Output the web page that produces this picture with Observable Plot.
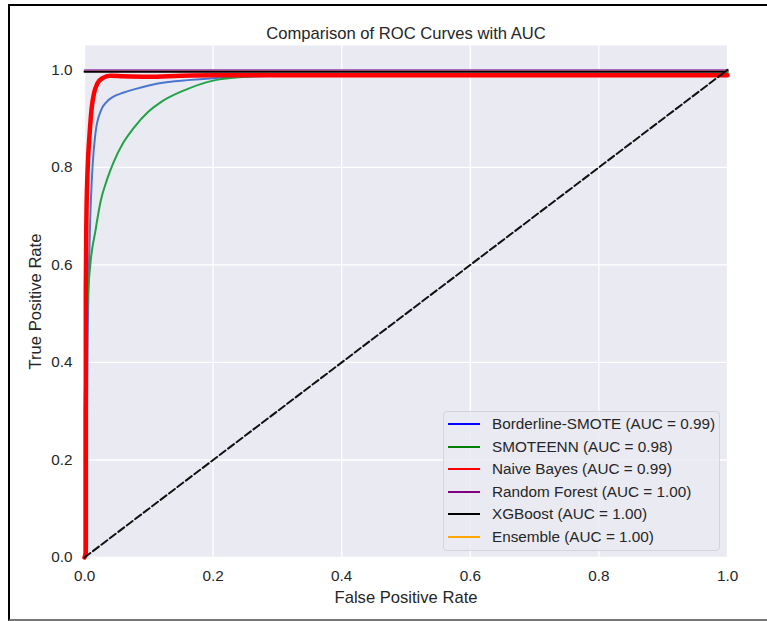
<!DOCTYPE html>
<html>
<head>
<meta charset="utf-8">
<script src="https://cdn.jsdelivr.net/npm/d3@7"></script>
<script src="https://cdn.jsdelivr.net/npm/@observablehq/plot@0.6"></script>
<style>
  html, body { margin: 0; padding: 0; background: #fff; overflow: hidden; }
  #wrap { position: relative; width: 767px; height: 621px; font-family: "Liberation Sans", Arial, sans-serif; }
  #frame { position: absolute; left: 8px; top: 4px; width: 800px; height: 613px;
           border-left: 2px solid #000; border-top: 2px solid #000; border-bottom: 2px solid #777; pointer-events: none; }
  #legend { position: absolute; left: 443px; top: 411px; width: 277px; height: 140px;
            background: rgba(234,234,242,0.8); border: 1px solid #d4d4dc; border-radius: 4px; box-sizing: border-box; }
  .row { position: absolute; left: 0; height: 22px; display: flex; align-items: center; font-size: 15.3px; color: #262626; white-space: nowrap; }
  .sw { width: 32px; height: 2px; margin-left: 4px; margin-right: 12px; }
</style>
</head>
<body>
<div id="wrap"></div>
<script>
const title = "Comparison of ROC Curves with AUC";
const xLabel = "False Positive Rate";
const yLabel = "True Positive Rate";
const ticks = [0, 0.2, 0.4, 0.6, 0.8, 1.0];

const models = ["Borderline-SMOTE", "SMOTEENN", "Naive Bayes", "Random Forest", "XGBoost", "Ensemble"];
const aucs = ["0.99", "0.98", "0.99", "1.00", "1.00", "1.00"];
const legendColors = ["#0000ff", "#008000", "#ff0000", "#800080", "#000000", "#ffa500"];
const curveColors = ["#4a76cf", "#1fa346", "#ff0000", "#8a3aa6", "#000000", "#ffa500"];
const curveWidths = [2, 2, 4.5, 1.5, 2, 1.5];

// ROC points
const fprBorderline = [0, 0.004, 0.004, 0.005, 0.007, 0.009, 0.012, 0.017, 0.025, 0.035, 0.045, 0.06, 0.077, 0.1, 0.13, 0.16, 0.2, 0.25, 0.3, 0.4, 1.0];
const tprBorderline = [0, 0.02, 0.3, 0.45, 0.6, 0.7, 0.79, 0.87, 0.915, 0.935, 0.945, 0.953, 0.96, 0.968, 0.975, 0.979, 0.983, 0.986, 0.988, 0.99, 0.99];

const fprSmoteenn = [0, 0, 0.002, 0.004, 0.009, 0.017, 0.025, 0.035, 0.045, 0.06, 0.076, 0.1, 0.12, 0.155, 0.2, 0.25, 0.3, 1.0, 1.0];
const tprSmoteenn = [0, 0.3, 0.4, 0.5, 0.6, 0.67, 0.73, 0.775, 0.81, 0.85, 0.88, 0.915, 0.935, 0.958, 0.978, 0.986, 0.99, 0.99, 1.0];

const fprNaiveBayes = [0, 0.002, 0.002, 0.003, 0.005, 0.008, 0.011, 0.015, 0.02, 0.028, 0.04, 0.06, 0.1, 0.15, 0.2, 1.0];
const tprNaiveBayes = [0, 0.01, 0.55, 0.7, 0.8, 0.87, 0.92, 0.953, 0.972, 0.983, 0.988, 0.987, 0.986, 0.988, 0.989, 0.989];

const fprRandomForest = [0, 1.0];
const tprRandomForest = [1.0, 1.0];
const fprXGBoost = [0, 1.0];
const tprXGBoost = [0.996, 0.996];
const fprEnsemble = [0, 1.0];
const tprEnsemble = [0.998, 0.998];

const diagFpr = [0, 1];
const diagTpr = [0, 1];

const series = [
  [fprBorderline, tprBorderline],
  [fprSmoteenn, tprSmoteenn],
  [fprNaiveBayes, tprNaiveBayes],
  [fprRandomForest, tprRandomForest],
  [fprXGBoost, tprXGBoost],
  [fprEnsemble, tprEnsemble]
];
const rows = series.map(([f, t], i) => f.map((x, j) => ({model: models[i], fpr: x, tpr: t[j]})));
const diag = diagFpr.map((x, i) => ({fpr: x, tpr: diagTpr[i]}));

// draw order: Ensemble, XGBoost, Random Forest, Borderline, SMOTEENN, Naive Bayes
const order = [5, 4, 3, 0, 1, 2];

const chart = Plot.plot({
  width: 767,
  height: 621,
  marginLeft: 84,
  marginRight: 40,
  marginTop: 45,
  marginBottom: 64,
  style: {fontFamily: "'Liberation Sans', Arial, sans-serif", fontSize: "15.3px", color: "#262626", background: "transparent"},
  x: {domain: [0, 1]},
  y: {domain: [0, 1.05]},
  marks: [
    Plot.frame({fill: "#eaeaf2", stroke: null}),
    Plot.gridX(ticks, {stroke: "#ffffff", strokeOpacity: 1, strokeWidth: 1.3}),
    Plot.gridY(ticks, {stroke: "#ffffff", strokeOpacity: 1, strokeWidth: 1.3}),
    Plot.axisX({ticks, tickSize: 0, tickPadding: 13, tickFormat: d3.format(".1f"), fontSize: 15.3,
                label: xLabel, labelAnchor: "center", labelArrow: "none", labelOffset: 45}),
    Plot.axisY({ticks, tickSize: 0, tickPadding: 12, tickFormat: d3.format(".1f"), fontSize: 15.3,
                label: yLabel, labelAnchor: "center", labelArrow: "none", labelOffset: 55}),
    ...order.map(i => Plot.line(rows[i], {x: "fpr", y: "tpr", stroke: curveColors[i], strokeWidth: curveWidths[i], curve: "monotone-x"})),
    Plot.line(diag, {x: "fpr", y: "tpr", stroke: "#111", strokeWidth: 2, strokeDasharray: "7.4,3.2"}),
    Plot.text([title], {frameAnchor: "top", dy: -12, lineAnchor: "middle", fontSize: 16.6, fill: "#262626"})
  ]
});

const wrap = document.getElementById("wrap");
wrap.appendChild(chart);
chart.style.position = "absolute";
chart.style.left = "0px";
chart.style.top = "0px";
// axis titles slightly larger than tick labels
chart.querySelectorAll("g[aria-label='x-axis label'] text, g[aria-label='y-axis label'] text").forEach(t => t.setAttribute("font-size", 16.6));

const frame = document.createElement("div");
frame.id = "frame";
wrap.appendChild(frame);

const legend = document.createElement("div");
legend.id = "legend";
models.forEach((m, i) => {
  const r = document.createElement("div");
  r.className = "row";
  r.style.top = (1 + i * 22.6) + "px";
  const sw = document.createElement("div");
  sw.className = "sw";
  sw.style.background = legendColors[i];
  const tx = document.createElement("span");
  tx.textContent = `${m} (AUC = ${aucs[i]})`;
  r.appendChild(sw);
  r.appendChild(tx);
  legend.appendChild(r);
});
wrap.appendChild(legend);
</script>
</body>
</html>
